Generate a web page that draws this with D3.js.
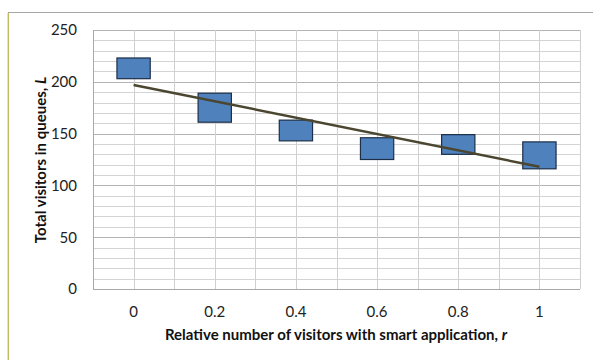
<!DOCTYPE html>
<html><head><meta charset="utf-8">
<script src="https://cdn.jsdelivr.net/npm/d3@7"></script>
<style>body{margin:0;background:#fff}svg{display:block}text{font-family:Lato,"Open Sans",sans-serif}</style>
</head><body>
<script>
const categories = ["0","0.2","0.4","0.6","0.8","1"];
const boxLow  = [203, 161, 143, 125, 130, 116];
const boxHigh = [223, 189, 163, 146, 149, 142];
const trendValues = [197, 118]; // linear trend at first and last category
const yTicks = [0, 50, 100, 150, 200, 250];

const W = 593, H = 360;
const m = {left: 93, right: 580, top: 30, bottom: 289};
const svg = d3.select("body").append("svg").attr("width", W).attr("height", H);

// outer chart frame
svg.append("rect").attr("x", 8.5).attr("y", 12.5).attr("width", 700).attr("height", 500)
  .attr("fill", "#fff").attr("stroke", "#a6a6a6").attr("stroke-width", 1);
svg.append("line").attr("x1", 8).attr("x2", 8).attr("y1", 13).attr("y2", H)
  .attr("stroke", "#d8d020").attr("stroke-width", 1);

const x = d3.scaleBand().domain(categories).range([m.left, m.right]).padding(0);
const y = d3.scaleLinear().domain([0, 250]).range([m.bottom, m.top]);
const bw = x.bandwidth();

const grid = svg.append("g");
d3.range(0, 251, 10).forEach(v => {
  const major = v % 50 === 0;
  grid.append("line").attr("x1", m.left).attr("x2", m.right)
    .attr("y1", Math.round(y(v)) + 0.5).attr("y2", Math.round(y(v)) + 0.5)
    .attr("stroke", major ? "#b4b4b4" : "#d4d4d4").attr("stroke-width", 1);
});
const vx = [];
categories.forEach(c => { vx.push(x(c)); vx.push(x(c) + bw / 2); });
vx.push(m.right);
vx.forEach((p, i) => {
  grid.append("line").attr("x1", Math.round(p) + 0.5).attr("x2", Math.round(p) + 0.5)
    .attr("y1", m.top).attr("y2", m.bottom)
    .attr("stroke", i === 0 ? "#a8a8a8" : "#d0d0d0").attr("stroke-width", 1);
});
grid.append("line").attr("x1", m.left).attr("x2", m.right)
  .attr("y1", Math.round(y(0)) + 0.5).attr("y2", Math.round(y(0)) + 0.5)
  .attr("stroke", "#a8a8a8");

// y axis
const ya = svg.append("g").attr("transform", `translate(${m.left - 16},0)`)
  .call(d3.axisLeft(y).tickValues(yTicks).tickSize(0).tickPadding(0));
ya.select(".domain").remove();
ya.selectAll("text").attr("font-size", 15).attr("fill", "#222").style("font-family", "Lato,sans-serif");

// x axis
const xa = svg.append("g").attr("transform", `translate(0,${m.bottom + 17})`)
  .call(d3.axisBottom(x).tickSize(0).tickPadding(0));
xa.select(".domain").remove();
xa.selectAll("text").attr("font-size", 15).attr("fill", "#222").style("font-family", "Lato,sans-serif");

// boxes
const boxW = bw * 0.41;
svg.append("g").selectAll("rect").data(categories).join("rect")
  .attr("x", (c) => x(c) + bw / 2 - boxW / 2)
  .attr("y", (c, i) => y(boxHigh[i]))
  .attr("width", boxW)
  .attr("height", (c, i) => y(boxLow[i]) - y(boxHigh[i]))
  .attr("fill", "#4f81bd").attr("stroke", "#1c2e48").attr("stroke-width", 1.2);

// trend line
const tx = [categories[0], categories[categories.length - 1]];
svg.append("line")
  .attr("x1", x(tx[0]) + bw / 2).attr("y1", y(trendValues[0]))
  .attr("x2", x(tx[1]) + bw / 2).attr("y2", y(trendValues[1]))
  .attr("stroke", "#4a4630").attr("stroke-width", 2.5);

// axis titles
svg.append("text").attr("x", 336).attr("y", 340)
  .attr("text-anchor", "middle").attr("font-size", 15).attr("font-weight", "bold").attr("fill", "#111")
  .html('Relative number of visitors with smart application, <tspan font-style="italic">r</tspan>');
svg.append("text").attr("transform", `translate(46,160) rotate(-90)`)
  .attr("text-anchor", "middle").attr("font-size", 15).attr("font-weight", "bold").attr("fill", "#111")
  .html('Total visitors in queues, <tspan font-style="italic">L</tspan>');
</script>
</body></html>
